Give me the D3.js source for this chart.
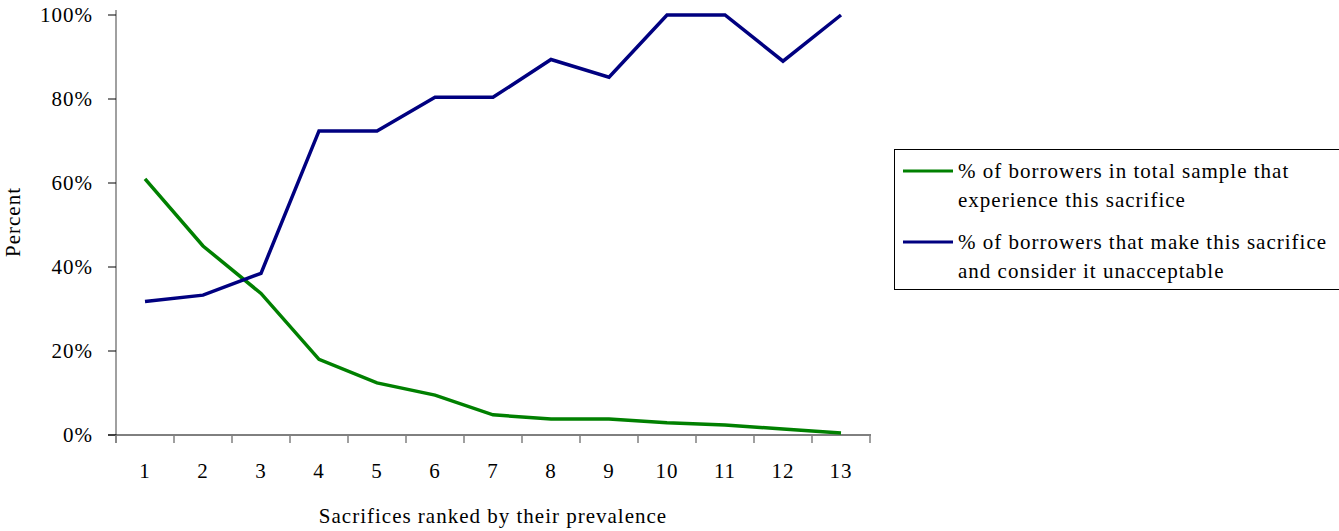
<!DOCTYPE html>
<html>
<head>
<meta charset="utf-8">
<script src="https://cdn.jsdelivr.net/npm/d3@7/dist/d3.min.js"></script>
<style>
  html, body { margin: 0; padding: 0; background: #fff; }
  svg text { font-family: "Liberation Serif", "Times New Roman", serif; font-size: 21px; letter-spacing: 1px; fill: #000; }
</style>
</head>
<body>
<svg id="chart" width="1339" height="531"></svg>
<script>
// Sacrifice ranks (by prevalence)
const categories = ["1","2","3","4","5","6","7","8","9","10","11","12","13"];
// Share of all borrowers who experience each sacrifice
const experienceShare = [0.61, 0.45, 0.337, 0.18, 0.124, 0.095, 0.048, 0.038, 0.038, 0.029, 0.024, 0.014, 0.005];
// Share of those making the sacrifice who consider it unacceptable
const unacceptableShare = [0.318, 0.333, 0.385, 0.724, 0.724, 0.804, 0.804, 0.894, 0.852, 1.0, 1.0, 0.89, 1.0];
const yTicks = [0, 0.2, 0.4, 0.6, 0.8, 1.0];
const seriesNames = [
  ["% of borrowers in total sample that", "experience this sacrifice"],
  ["% of borrowers that make this sacrifice", "and consider it unacceptable"]
];
const seriesColors = ["#008000", "#000080"];

const svg = d3.select("#chart");

const x = d3.scaleBand().domain(categories).range([116, 870]).paddingInner(0).paddingOuter(0);
const y = d3.scaleLinear().domain([0, 1]).range([435, 15]);
const fmt = d3.format(".0%");

// Y axis
const yAxis = svg.append("g");
yAxis.append("line")
  .attr("x1", x.range()[0]).attr("x2", x.range()[0])
  .attr("y1", y(1) - 5).attr("y2", y(0) + 8)
  .attr("stroke", "#808080").attr("stroke-width", 1.5);
yAxis.selectAll("line.tick").data(yTicks).join("line")
  .attr("class", "tick")
  .attr("x1", x.range()[0] - 8).attr("x2", x.range()[0])
  .attr("y1", d => y(d)).attr("y2", d => y(d))
  .attr("stroke", "#000").attr("stroke-width", 1);
yAxis.selectAll("text").data(yTicks).join("text")
  .attr("x", 93).attr("y", d => y(d) + 7)
  .attr("text-anchor", "end")
  .text(d => fmt(d));

// X axis
const xAxis = svg.append("g");
xAxis.append("line")
  .attr("x1", x.range()[0] - 8).attr("x2", x.range()[1] + 1)
  .attr("y1", y(0)).attr("y2", y(0))
  .attr("stroke", "#000").attr("stroke-width", 1);
const tickPos = categories.map(c => x(c)).concat([x.range()[1]]);
xAxis.selectAll("line.tick").data(tickPos).join("line")
  .attr("class", "tick")
  .attr("x1", d => d).attr("x2", d => d)
  .attr("y1", y(0)).attr("y2", y(0) + 8)
  .attr("stroke", "#808080").attr("stroke-width", 1.5);
xAxis.selectAll("text").data(categories).join("text")
  .attr("x", d => x(d) + x.bandwidth() / 2)
  .attr("y", 478)
  .attr("text-anchor", "middle")
  .text(d => d);

// Axis titles
svg.append("text")
  .attr("x", (x.range()[0] + x.range()[1]) / 2)
  .attr("y", 523)
  .attr("text-anchor", "middle")
  .text("Sacrifices ranked by their prevalence");
svg.append("text")
  .attr("transform", "translate(20,222) rotate(-90)")
  .attr("text-anchor", "middle")
  .text("Percent");

// Series lines
const line = d3.line()
  .x((d, i) => x(categories[i]) + x.bandwidth() / 2)
  .y(d => y(d));
[experienceShare, unacceptableShare].forEach((vals, k) => {
  svg.append("path")
    .datum(vals)
    .attr("d", line)
    .attr("fill", "none")
    .attr("stroke", seriesColors[k])
    .attr("stroke-width", 3.5)
    .attr("stroke-linejoin", "miter");
});

// Legend
const legend = svg.append("g");
legend.append("rect")
  .attr("x", 894.5).attr("y", 149.5)
  .attr("width", 460).attr("height", 140)
  .attr("fill", "#fff").attr("stroke", "#000").attr("stroke-width", 1);
const legendRows = [171, 242];
seriesNames.forEach((lines, k) => {
  legend.append("line")
    .attr("x1", 903).attr("x2", 953)
    .attr("y1", legendRows[k]).attr("y2", legendRows[k])
    .attr("stroke", seriesColors[k]).attr("stroke-width", 3);
  lines.forEach((t, j) => {
    legend.append("text")
      .attr("x", 958)
      .attr("y", legendRows[k] + 7 + j * 29)
      .text(t);
  });
});
</script>
</body>
</html>
